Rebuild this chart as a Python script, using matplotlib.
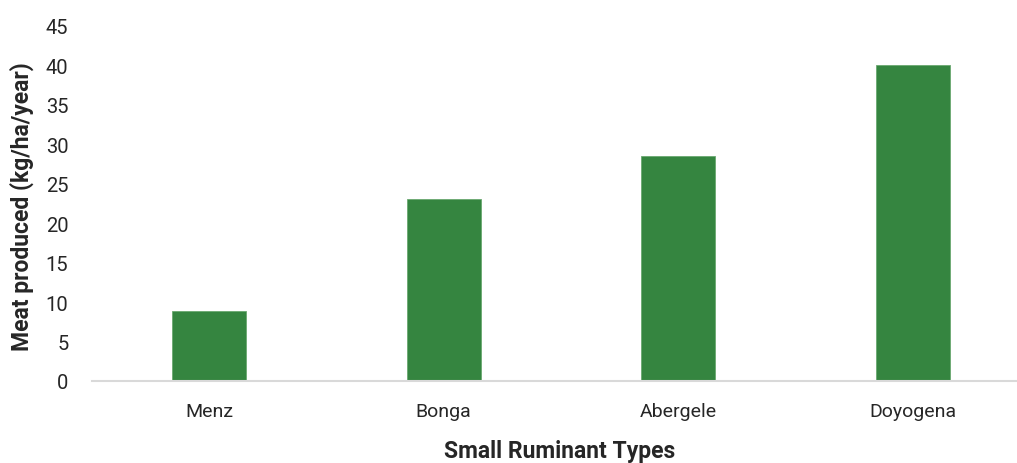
import matplotlib
matplotlib.use("Agg")
import matplotlib.pyplot as plt

categories = ["Menz", "Bonga", "Abergele", "Doyogena"]
values = [8.9, 23.1, 28.5, 40.0]
yticks = [0, 5, 10, 15, 20, 25, 30, 35, 40, 45]

plt.rcParams['font.family'] = ['Roboto', 'DejaVu Sans']

fig = plt.figure(figsize=(10.17, 4.64), dpi=100)
ax = fig.add_axes([92/1017, 1 - 382/464, 1 - 92/1017, (382 - 27)/464])

x = list(range(len(categories)))
ax.bar(x, values, width=0.315, color="#358540", edgecolor="#6aa870", linewidth=0.6, zorder=2)

ax.set_xlim(-0.5, 3.445)
ax.set_ylim(0, 45)
ax.set_yticks(yticks)
ax.set_yticklabels([str(v) for v in yticks])
ax.set_xticks(x)
ax.set_xticklabels(categories)

for s in ["top", "right", "left"]:
    ax.spines[s].set_visible(False)
ax.spines["bottom"].set_color("#d9d9d9")
ax.spines["bottom"].set_linewidth(1.5)
ax.spines["bottom"].set_zorder(3)

ax.tick_params(axis="y", length=0, pad=17, labelsize=14.5, labelcolor="#262626")
ax.tick_params(axis="x", length=0, pad=15, labelsize=14, labelcolor="#262626")

fig.text(22/1017, 1 - 207/464, "Meat produced (kg/ha/year)", rotation=90,
         ha="center", va="center", fontsize=16.5, fontweight="bold", color="#262626")
fig.text(560/1017, 1 - 452/464, "Small Ruminant Types",
         ha="center", va="center", fontsize=16.5, fontweight="bold", color="#262626")

fig.savefig("out.png", dpi=100)
